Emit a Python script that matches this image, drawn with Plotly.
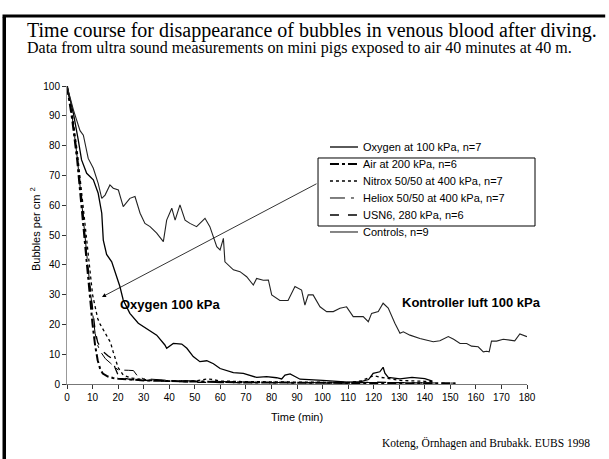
import plotly.graph_objects as go

# ── data ────────────────────────────────────────────────────────────────────
ctrl_t = [0, 2.5, 5.1, 6.4, 8.3, 10.3, 12.2, 13.6, 14.9, 16.8, 18.1, 20.1, 22.0, 24.6,
          26.6, 28.6, 30.5, 32.5, 35.1, 37.7, 39.0, 41.0, 42.3, 44.2, 46.2, 48.1, 50.7,
          54.0, 55.9, 58.6, 59.9, 61.2, 61.8, 65.1, 67.7, 70.3, 72.9, 74.2, 76.8, 78.8,
          80.1, 83.3, 86.5, 89.2, 91.8, 93.1, 94.4, 96.3, 99.0, 101.6, 104.2, 106.8,
          109.4, 112.0, 115.9, 117.9, 119.2, 121.8, 123.7, 125.7, 128.3, 130.3, 131.6,
          134.2, 138.1, 143.3, 145.9, 149.2, 151.3, 153.8, 156.4, 158.3, 160.9, 162.9,
          164.2, 165.2, 166.1, 168.1, 170.7, 173.3, 175.2, 177.2, 178.5, 180]
ctrl_y = [100, 92, 85, 83.5, 75.7, 72.4, 67.3, 62.3, 63.4, 66.8, 65.7, 65.1, 59.5, 62.3,
          62.9, 57.3, 53.9, 52.8, 50.6, 47.8, 55.0, 59.0, 55.0, 60.1, 55.0, 53.9, 52.8,
          55.6, 52.8, 46.1, 45.0, 48.9, 41.0, 38.3, 37.7, 36.0, 33.2, 35.4, 34.8, 34.9,
          29.9, 28.0, 28.0, 32.7, 31.5, 26.5, 29.9, 29.9, 25.9, 24.3, 24.3, 25.4,
          25.9, 22.6, 22.6, 20.9, 23.7, 24.3, 27.1, 25.5, 20.4, 17.0, 17.5,
          16.4, 15.3, 14.2, 14.5, 15.9, 15.0, 13.6, 13.6, 12.7, 12.5, 10.8,
          11.0, 10.8, 14.4, 14.4, 15.0, 14.8, 14.5, 16.8, 16.4, 15.9]

oxy_t = [0, 2.5, 4.4, 5.7, 7.7, 10.3, 12.2, 13.6, 14.2, 15.5, 17.5, 19.4, 20.7, 22.0,
         24.6, 27.9, 31.8, 35.1, 38.3, 39.0, 41.6, 44.9, 46.9, 49.4, 52.0, 54.7, 57.3,
         59.9, 65.1, 69.0, 74.2, 78.1, 82.0, 84.0, 85.3, 87.3, 89.2, 91.2, 100, 110,
         115, 118, 119.8, 122.4, 123.7, 124.4, 125.7, 130.3, 135, 140, 143]
oxy_y = [100, 90.8, 81.9, 75.2, 70.7, 68.5, 64.0, 57.3, 48.3, 43.5, 41.0, 36.0, 32.7, 28.2,
         23.7, 20.4, 18.1, 16.4, 13.1, 12.0, 13.6, 13.4, 12.0, 9.2, 7.5, 7.8, 6.8,
         5.2, 3.8, 3.6, 2.2, 2.5, 2.1, 1.7, 3.0, 3.4, 2.5, 1.6, 1.2, 0.6,
         0.8, 1.5, 3.6, 4.1, 5.6, 3.6, 2.2, 1.7, 2.2, 1.8, 1.0]

air_t = [0, 2, 4, 6, 7, 8, 9, 10, 11, 12, 13, 14, 16, 18, 20, 25, 30, 40, 50, 60,
         70, 80, 90, 100, 110, 120, 130, 140, 152]
air_y = [100, 89, 75, 57, 47, 37, 28, 20, 13, 8, 5, 3.5, 2.5, 2.0, 1.8, 1.5, 1.2, 1.0,
         0.8, 0.6, 0.5, 0.5, 0.4, 0.4, 0.3, 0.3, 0.3, 0.2, 0.2]

nit_t = [0, 2, 4, 6, 8, 9, 10, 12, 13, 15, 17, 18, 19, 20, 22, 25, 30, 40, 50, 55, 57,
         60, 70, 80, 90, 100, 110, 115, 118, 120, 123, 127, 130, 140, 143]
nit_y = [100, 91, 78, 62, 45, 36, 30, 22, 20, 17, 14, 11, 8, 5.5, 3.0, 2.0, 1.5, 1.0,
         1.0, 1.7, 1.5, 1.0, 0.8, 0.7, 0.6, 0.6, 0.5, 1.0, 2.0, 2.8, 2.2, 1.5, 1.2, 0.9, 0.8]

hel_t = [0, 2, 4, 6, 8, 10, 11, 12, 13, 15, 17, 19, 20, 24, 26, 28, 30, 40, 50, 60,
         70, 80, 90, 100, 110, 120, 130, 140, 152]
hel_y = [100, 90, 76, 58, 40, 24, 17, 13, 11, 8.5, 7, 5.5, 4.7, 4.6, 4.5, 2.2, 1.8, 1.2,
         1.0, 0.8, 0.6, 0.5, 0.5, 0.4, 0.4, 0.5, 0.4, 0.3, 0.3]

usn_t = [0, 2, 4, 6, 8, 9, 10, 11, 12, 14, 16, 17.5, 19, 20, 22, 25, 30, 40, 50, 60,
         70, 80, 90, 100, 110, 120, 130, 140, 143]
usn_y = [100, 90, 77, 60, 40, 33, 25, 18, 14, 11, 9.5, 8.6, 5.0, 3.0, 2.0, 1.5, 1.2, 0.8,
         0.6, 0.5, 0.5, 0.4, 0.4, 0.3, 0.3, 0.6, 0.5, 0.4, 0.3]

SANS = "Liberation Sans, Arial, sans-serif"
SERIF = "Liberation Serif, Times New Roman, serif"

series = [
    ("Oxygen at 100 kPa, n=7", oxy_t, oxy_y, "solid", 1.3, "#000"),
    ("Air at 200 kPa, n=6", air_t, air_y, "dashdot", 2.0, "#000"),
    ("Nitrox 50/50 at 400 kPa, n=7", nit_t, nit_y, "dot", 1.3, "#000"),
    ("Heliox 50/50 at 400 kPa, n=7", hel_t, hel_y, "longdashdot", 1.0, "#000"),
    ("USN6, 280 kPa, n=6", usn_t, usn_y, "dash", 1.3, "#000"),
    ("Controls, n=9", ctrl_t, ctrl_y, "solid", 1.1, "#222"),
]

fig = go.Figure()
for name, t, y, dash, w, col in series:
    fig.add_trace(go.Scatter(x=t, y=y, mode="lines", name=name, showlegend=False,
                             line=dict(color=col, width=w, dash=dash)))

fig.update_layout(
    width=609, height=459,
    margin=dict(l=67, r=82, t=86, b=75),
    paper_bgcolor="white", plot_bgcolor="white",
    font=dict(family=SANS, size=10, color="#000"),
    showlegend=False,
    xaxis=dict(range=[0, 180], dtick=10, showgrid=False, zeroline=False,
               showline=True, linecolor="#777", linewidth=1,
               ticks="outside", ticklen=4, tickcolor="#333",
               tickfont=dict(family=SANS, size=10, color="#000")),
    yaxis=dict(range=[0, 100], dtick=10, showgrid=False, zeroline=False,
               showline=True, linecolor="#999", linewidth=1,
               ticks="outside", ticklen=4, tickcolor="#333",
               tickfont=dict(family=SANS, size=10, color="#000")),
)

# hand-made legend (entries sit 17 px apart, tighter than plotly's own legend)
leg_y = [0.7953, 0.7383, 0.6812, 0.6242, 0.5671, 0.5101]
for (name, t, y, dash, w, col), ly in zip(series, leg_y):
    fig.add_shape(type="line", xref="paper", yref="paper",
                  x0=0.5717, x1=0.6326, y0=ly, y1=ly,
                  line=dict(color=col, width=w, dash=dash))
    fig.add_annotation(text=name, xref="paper", yref="paper", x=0.6391, y=ly,
                       xanchor="left", yanchor="middle", showarrow=False,
                       font=dict(family=SANS, size=11, color="#000"))

# box round the middle legend entries
fig.add_shape(type="rect", xref="paper", yref="paper",
              x0=0.5457, x1=1.0174, y0=0.5302, y1=0.7584,
              line=dict(color="#000", width=1))

# slide frame: left edge and top edge (the very top rows of the page don't show,
# so the top edge sits a little lower than on the slide)
fig.add_shape(type="rect", xref="paper", yref="paper",
              x0=-0.1402, x1=-0.1326, y0=1.2315, y1=-0.26,
              fillcolor="#000", line=dict(width=0))
fig.add_shape(type="line", xref="paper", yref="paper",
              x0=-0.1402, x1=1.17, y0=1.2349, y1=1.2349,
              line=dict(color="#000", width=3))

notes = [
    dict(text="Time course for disappearance of bubbles in venous blood after diving.",
         x=-0.0913, y=1.1846, size=20),
    dict(text="Data from ultra sound measurements on mini pigs exposed to air 40 minutes at 40 m.",
         x=-0.0913, y=1.1275, size=16),
    dict(text="Koteng, Örnhagen and Brubakk. EUBS 1998",
         x=0.680, y=-0.198, size=11.5),
]
for n in notes:
    fig.add_annotation(text=n["text"], xref="paper", yref="paper", x=n["x"], y=n["y"],
                       xanchor="left", yanchor="middle", showarrow=False,
                       font=dict(family=SERIF, size=n["size"], color="#000"))

fig.add_annotation(text="Time (min)", xref="paper", yref="paper", x=0.5, y=-0.1107,
                   xanchor="center", yanchor="middle", showarrow=False,
                   font=dict(family=SANS, size=11, color="#000"))
fig.add_annotation(text="Bubbles per cm <sup>2</sup>", xref="paper", yref="paper",
                   x=-0.0696, y=0.52, textangle=-90, xanchor="center", yanchor="middle",
                   showarrow=False, font=dict(family=SANS, size=11, color="#000"))

fig.add_annotation(text="<b>Oxygen 100 kPa</b>", x=20, y=26.8, xanchor="left",
                   yanchor="middle", showarrow=False,
                   font=dict(family=SANS, size=13, color="#000"))
fig.add_annotation(text="<b>Kontroller luft 100 kPa</b>", x=130.3, y=27.2, xanchor="left",
                   yanchor="middle", showarrow=False,
                   font=dict(family=SANS, size=13, color="#000"))

# arrow from the legend box to the oxygen label
fig.add_annotation(text="", x=13.7, y=29.2, ax=216, ay=-114, showarrow=True,
                   arrowhead=2, arrowsize=1, arrowwidth=0.8, arrowcolor="#000")

# page body has an 8px default margin; drop it so the slide sits at the window corner
fig.write_html("out.html", config={"displayModeBar": False},
               post_script="document.body.style.margin='0';")
